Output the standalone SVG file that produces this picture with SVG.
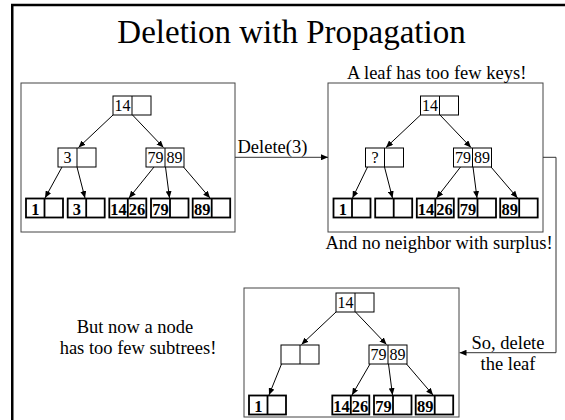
<svg xmlns="http://www.w3.org/2000/svg" width="565" height="420" viewBox="0 0 565 420">
  <defs>
    <marker id="arrow" markerWidth="7" markerHeight="6" refX="7" refY="3" orient="auto" markerUnits="userSpaceOnUse">
      <path d="M0,0 L7,3 L0,6 z" fill="#000"/>
    </marker>
    <style>
      text{font-family:"Liberation Serif","Times New Roman",serif;fill:#000}
      .title{font-size:33px;text-anchor:middle}
      .label{font-size:18.5px}
      .mid{text-anchor:middle}
      .key{font-size:16px;text-anchor:middle}
      .lkey{font-size:16.5px;font-weight:bold;text-anchor:middle}
      .frame{fill:none;stroke:#000;stroke-width:2.5}
      .panel{fill:#fff;stroke:#444;stroke-width:1}
      .inode rect,.inode line{fill:#fff;stroke:#000;stroke-width:1}
      .leaf rect,.leaf line{fill:#fff;stroke:#000;stroke-width:1.8}
      .edge{stroke:#000;stroke-width:1;fill:none;marker-end:url(#arrow)}
      .flow{stroke:#333;stroke-width:1;fill:none;marker-end:url(#arrow)}
    </style>
  </defs>

  <rect width="565" height="420" fill="#fff"/>
  <!-- slide frame -->
  <rect class="frame" x="12.25" y="5" width="600" height="500"/>

  <text class="title" x="291.5" y="43">Deletion with Propagation</text>

  <!-- panels -->
  <rect id="panel-before" class="panel" x="21" y="83" width="214" height="149"/>
  <rect id="panel-underflow" class="panel" x="328" y="83" width="215" height="149"/>
  <rect id="panel-after" class="panel" x="244" y="288" width="215" height="129"/>

  <!-- tree 1: before deletion -->
  <g id="tree-before">
    <g class="edges">
      <path class="edge" d="M113,115 L78.5,147.5"/>
      <path class="edge" d="M132.5,115 L163.5,147.5"/>
      <path class="edge" d="M62,167 L45,198"/>
      <path class="edge" d="M77,167 L85,198"/>
      <path class="edge" d="M154,167 L129,198"/>
      <path class="edge" d="M165.5,167 L169.5,198"/>
      <path class="edge" d="M183.5,167 L210,198"/>
    </g>
    <g id="t1-root" class="inode"><rect x="113" y="96" width="38" height="19"/><line x1="132" y1="96" x2="132" y2="115"/><text class="key" x="122.5" y="111">14</text></g>
    <g id="t1-left" class="inode"><rect x="58" y="148" width="38" height="19"/><line x1="77" y1="148" x2="77" y2="167"/><text class="key" x="67.5" y="163">3</text></g>
    <g id="t1-right" class="inode"><rect x="146" y="148" width="38" height="19"/><line x1="165" y1="148" x2="165" y2="167"/><text class="key" x="155.5" y="163">79</text><text class="key" x="174.5" y="163">89</text></g>
    <g id="t1-leaf1" class="leaf"><rect x="26" y="198.5" width="37" height="19"/><line x1="44.5" y1="198.5" x2="44.5" y2="217.5"/><text class="lkey" x="35.25" y="214.5">1</text></g>
    <g id="t1-leaf2" class="leaf"><rect x="67.7" y="198.5" width="37" height="19"/><line x1="86.2" y1="198.5" x2="86.2" y2="217.5"/><text class="lkey" x="76.95" y="214.5">3</text></g>
    <g id="t1-leaf3" class="leaf"><rect x="109.3" y="198.5" width="37" height="19"/><line x1="127.8" y1="198.5" x2="127.8" y2="217.5"/><text class="lkey" x="118.55" y="214.5">14</text><text class="lkey" x="137.05" y="214.5">26</text></g>
    <g id="t1-leaf4" class="leaf"><rect x="151" y="198.5" width="37.5" height="19"/><line x1="170" y1="198.5" x2="170" y2="217.5"/><text class="lkey" x="160.5" y="214.5">79</text></g>
    <g id="t1-leaf5" class="leaf"><rect x="192.7" y="198.5" width="37.5" height="19"/><line x1="211.7" y1="198.5" x2="211.7" y2="217.5"/><text class="lkey" x="202.2" y="214.5">89</text></g>
  </g>

  <!-- tree 2: leaf emptied -->
  <g id="tree-underflow" transform="translate(307.5,0)">
    <g class="edges">
      <path class="edge" d="M113,115 L78.5,147.5"/>
      <path class="edge" d="M132.5,115 L163.5,147.5"/>
      <path class="edge" d="M60,167 L45,198"/>
      <path class="edge" d="M77,167 L85,198"/>
      <path class="edge" d="M153,167 L129,198"/>
      <path class="edge" d="M165.5,167 L169.5,198"/>
      <path class="edge" d="M183.5,167 L210,198"/>
    </g>
    <g id="t2-root" class="inode"><rect x="113" y="96" width="38" height="19"/><line x1="132" y1="96" x2="132" y2="115"/><text class="key" x="122.5" y="111">14</text></g>
    <g id="t2-left" class="inode"><rect x="58" y="148" width="38" height="19"/><line x1="77" y1="148" x2="77" y2="167"/><text class="key" x="67.5" y="163">?</text></g>
    <g id="t2-right" class="inode"><rect x="146" y="148" width="38" height="19"/><line x1="165" y1="148" x2="165" y2="167"/><text class="key" x="155.5" y="163">79</text><text class="key" x="174.5" y="163">89</text></g>
    <g id="t2-leaf1" class="leaf"><rect x="26" y="198.5" width="37" height="19"/><line x1="44.5" y1="198.5" x2="44.5" y2="217.5"/><text class="lkey" x="35.25" y="214.5">1</text></g>
    <g id="t2-leaf2" class="leaf"><rect x="67.7" y="198.5" width="37" height="19"/><line x1="86.2" y1="198.5" x2="86.2" y2="217.5"/></g>
    <g id="t2-leaf3" class="leaf"><rect x="109.3" y="198.5" width="37" height="19"/><line x1="127.8" y1="198.5" x2="127.8" y2="217.5"/><text class="lkey" x="118.55" y="214.5">14</text><text class="lkey" x="137.05" y="214.5">26</text></g>
    <g id="t2-leaf4" class="leaf"><rect x="151" y="198.5" width="37.5" height="19"/><line x1="170" y1="198.5" x2="170" y2="217.5"/><text class="lkey" x="160.5" y="214.5">79</text></g>
    <g id="t2-leaf5" class="leaf"><rect x="192.7" y="198.5" width="37.5" height="19"/><line x1="211.7" y1="198.5" x2="211.7" y2="217.5"/><text class="lkey" x="202.2" y="214.5">89</text></g>
  </g>

  <!-- tree 3: after removing the leaf -->
  <g id="tree-after" transform="translate(223,197)">
    <g class="edges">
      <path class="edge" d="M113,115 L78.5,147.5"/>
      <path class="edge" d="M132.5,115 L163.5,147.5"/>
      <path class="edge" d="M58.5,167 L46,198"/>
      <path class="edge" d="M147,167 L129,198"/>
      <path class="edge" d="M165.5,167 L169.5,198"/>
      <path class="edge" d="M183.5,167 L210,198"/>
    </g>
    <g id="t3-root" class="inode"><rect x="113" y="96" width="38" height="19"/><line x1="132" y1="96" x2="132" y2="115"/><text class="key" x="122.5" y="111">14</text></g>
    <g id="t3-left" class="inode"><rect x="58" y="148" width="38" height="19"/><line x1="77" y1="148" x2="77" y2="167"/></g>
    <g id="t3-right" class="inode"><rect x="146" y="148" width="38" height="19"/><line x1="165" y1="148" x2="165" y2="167"/><text class="key" x="155.5" y="163">79</text><text class="key" x="174.5" y="163">89</text></g>
    <g id="t3-leaf1" class="leaf"><rect x="26" y="198.5" width="37" height="19"/><line x1="44.5" y1="198.5" x2="44.5" y2="217.5"/><text class="lkey" x="35.25" y="214.5">1</text></g>
    <g id="t3-leaf3" class="leaf"><rect x="109.3" y="198.5" width="37" height="19"/><line x1="127.8" y1="198.5" x2="127.8" y2="217.5"/><text class="lkey" x="118.55" y="214.5">14</text><text class="lkey" x="137.05" y="214.5">26</text></g>
    <g id="t3-leaf4" class="leaf"><rect x="151" y="198.5" width="37.5" height="19"/><line x1="170" y1="198.5" x2="170" y2="217.5"/><text class="lkey" x="160.5" y="214.5">79</text></g>
    <g id="t3-leaf5" class="leaf"><rect x="192.7" y="198.5" width="37.5" height="19"/><line x1="211.7" y1="198.5" x2="211.7" y2="217.5"/><text class="lkey" x="202.2" y="214.5">89</text></g>
  </g>

  <!-- steps between panels -->
  <g id="steps">
    <path class="flow" d="M235,157.3 L328,157.3"/>
    <path class="flow" d="M543,157.3 L556,157.3 L556,352.7 L459.5,352.7"/>
  </g>

  <!-- captions -->
  <text class="label" x="237.5" y="153">Delete(3)</text>
  <text class="label mid" x="436.7" y="79">A leaf has too few keys!</text>
  <text class="label mid" x="439" y="249">And no neighbor with surplus!</text>
  <text class="label mid" x="508" y="349">So, delete</text>
  <text class="label mid" x="508" y="370">the leaf</text>
  <text class="label mid" x="135" y="333">But now a node</text>
  <text class="label mid" x="138" y="354">has too few subtrees!</text>
</svg>
